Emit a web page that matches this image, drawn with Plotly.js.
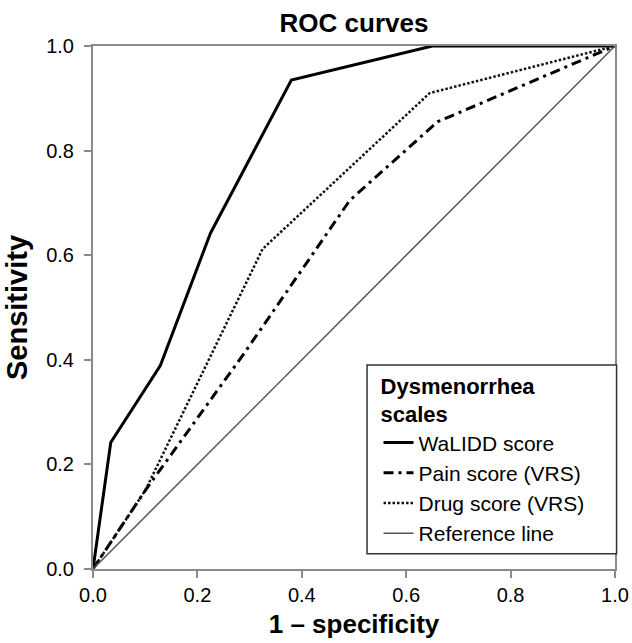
<!DOCTYPE html>
<html>
<head>
<meta charset="utf-8">
<script src="https://cdn.plot.ly/plotly-3.0.1.min.js"></script>
<style>html,body{margin:0;padding:0;background:#fff;}#chart{width:632px;height:643px;}</style>
</head>
<body>
<div id="chart"></div>
<script>
const walidd_x = [0, 0.034, 0.129, 0.225, 0.38, 0.65, 1];
const walidd_y = [0, 0.242, 0.389, 0.642, 0.935, 1, 1];
const pain_x = [0, 0.1, 0.29, 0.492, 0.66, 1];
const pain_y = [0, 0.15, 0.413, 0.705, 0.855, 1];
const drug_x = [0, 0.1, 0.325, 0.645, 1];
const drug_y = [0, 0.15, 0.612, 0.91, 1];
const ref_x = [0, 1];
const ref_y = [0, 1];
const seriesNames = ["WaLIDD score", "Pain score (VRS)", "Drug score (VRS)", "Reference line"];
const tickVals = [0, 0.2, 0.4, 0.6, 0.8, 1.0];
const tickText = ["0.0", "0.2", "0.4", "0.6", "0.8", "1.0"];

const FONT = "Liberation Sans, Arial, Helvetica, sans-serif";

const data = [
  {x: walidd_x, y: walidd_y, name: seriesNames[0], mode: "lines", line: {color: "#000", width: 3}},
  {x: pain_x, y: pain_y, name: seriesNames[1], mode: "lines", line: {color: "#000", width: 3, dash: "10px,5px,3px,5px"}},
  {x: drug_x, y: drug_y, name: seriesNames[2], mode: "lines", line: {color: "#111", width: 2.5, dash: "2.5px,2px"}},
  {x: ref_x, y: ref_y, name: seriesNames[3], mode: "lines", line: {color: "#555", width: 1.5}}
];

const axisCommon = {
  range: [0, 1],
  tickvals: tickVals,
  ticktext: tickText,
  showgrid: false,
  zeroline: false,
  showline: true,
  mirror: true,
  linecolor: "#8a8a8a",
  linewidth: 2,
  ticks: "outside",
  ticklen: 7,
  tickwidth: 2,
  tickcolor: "#8a8a8a",
  tickfont: {family: FONT, size: 20, color: "#000"},
  automargin: false,
  fixedrange: true
};

const layout = {
  width: 632,
  height: 643,
  margin: {l: 93, r: 17, t: 46, b: 74},
  paper_bgcolor: "#fff",
  plot_bgcolor: "#fff",
  font: {family: FONT, color: "#000"},
  title: {text: "ROC curves", font: {family: FONT, size: 26, weight: "bold", color: "#000"},
          x: 0.5, xref: "paper", xanchor: "center", y: 1 - 23/643, yanchor: "middle", yref: "container"},
  xaxis: Object.assign({}, axisCommon, {ticklabelstandoff: 0, title: {text: "1 – specificity", font: {family: FONT, size: 26, weight: "bold", color: "#000"}, standoff: 10}}),
  yaxis: Object.assign({}, axisCommon, {ticklabelstandoff: 6, title: {text: "Sensitivity", font: {family: FONT, size: 29, weight: "bold", color: "#000"}, standoff: 10}}),
  shapes: [{
    type: "rect", xref: "paper", yref: "paper", layer: "above",
    x0: 0.525, x1: 1.003, y0: 0.029, y1: 0.39,
    fillcolor: "#fff", line: {color: "#333", width: 1.5}
  }],
  showlegend: true,
  legend: {
    x: 0.547, y: 0.39, xanchor: "left", yanchor: "top",
    bgcolor: "rgba(0,0,0,0)", borderwidth: 0,
    font: {family: FONT, size: 21, color: "#000"},
    title: {text: "Dysmenorrhea<br>scales", font: {family: FONT, size: 22, weight: "bold", color: "#000"}, side: "top"},
    traceorder: "normal"
  }
};

Plotly.newPlot("chart", data, layout, {displayModeBar: false, staticPlot: true});
</script>
</body>
</html>
